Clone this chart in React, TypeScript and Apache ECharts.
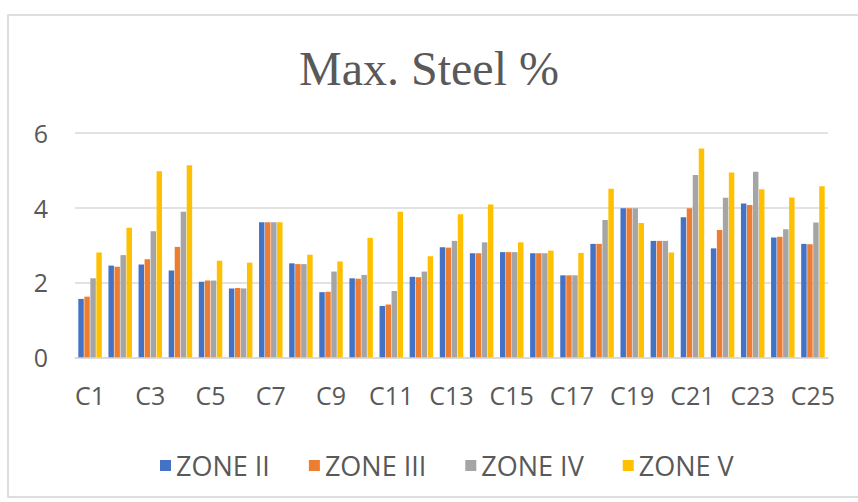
import React, { useEffect, useRef } from "react";
import * as echarts from "echarts";

const categories = Array.from({ length: 25 }, (_, i) => `C${i + 1}`);
const zone2 = [1.56, 2.45, 2.48, 2.32, 2.02, 1.84, 3.61, 2.51, 1.74, 2.11, 1.37, 2.15, 2.94, 2.78, 2.81, 2.78, 2.19, 3.03, 3.98, 3.11, 3.74, 2.91, 4.11, 3.2, 3.03];
const zone3 = [1.62, 2.42, 2.62, 2.95, 2.05, 1.85, 3.61, 2.49, 1.75, 2.1, 1.41, 2.14, 2.93, 2.78, 2.81, 2.78, 2.19, 3.03, 3.98, 3.11, 3.98, 3.4, 4.07, 3.22, 3.02];
const zone4 = [2.11, 2.73, 3.37, 3.89, 2.05, 1.84, 3.61, 2.49, 2.29, 2.2, 1.77, 2.29, 3.11, 3.07, 2.81, 2.78, 2.19, 3.67, 3.98, 3.11, 4.87, 4.26, 4.96, 3.42, 3.6];
const zone5 = [2.8, 3.46, 4.97, 5.13, 2.58, 2.53, 3.61, 2.74, 2.56, 3.19, 3.89, 2.7, 3.82, 4.08, 3.07, 2.85, 2.79, 4.5, 3.59, 2.8, 5.58, 4.94, 4.49, 4.27, 4.57];
const seriesNames = ["ZONE II", "ZONE III", "ZONE IV", "ZONE V"];
const seriesColors = ["#4472C4", "#ED7D31", "#A5A5A5", "#FFC000"];
const yTicks = { min: 0, max: 6, interval: 2 };

export default function App() {
  const ref = useRef<HTMLDivElement>(null);
  useEffect(() => {
    if (!ref.current) return;
    const chart = echarts.init(ref.current, undefined, { renderer: "svg" });
    const data = [zone2, zone3, zone4, zone5];
    const font = "'Open Sans', 'Noto Sans', sans-serif";
    chart.setOption({
      animation: false,
      backgroundColor: "#ffffff",
      title: {
        text: "Max. Steel %",
        left: "center",
        top: 44,
        padding: [0, 0, 0, 48],
        textStyle: {
          fontFamily: "'Liberation Serif', 'Times New Roman', serif",
          fontSize: 48,
          fontWeight: "normal",
          color: "#595959",
        },
      },
      graphic: [
        {
          type: "rect",
          shape: { x: 8, y: 15, width: 900, height: 482 },
          style: { fill: "none", stroke: "#d4d4d4", lineWidth: 1.5 },
          silent: true,
        },
      ],
      legend: {
        data: seriesNames,
        left: 150,
        top: 447,
        padding: [5, 5, 5, 10],
        itemWidth: 11,
        itemHeight: 11,
        itemGap: 39,
        icon: "rect",
        textStyle: { fontFamily: font, fontSize: 27, color: "#595959" },
      },
      grid: { left: 75, right: 30, top: 132.7, bottom: 144.7, containLabel: false },
      xAxis: {
        type: "category",
        data: categories,
        axisTick: { show: false },
        axisLine: { lineStyle: { color: "#d9d9d9", width: 1.5 } },
        axisLabel: {
          interval: 1,
          margin: 25,
          fontFamily: font,
          fontSize: 25,
          color: "#595959",
        },
      },
      yAxis: {
        type: "value",
        min: yTicks.min,
        max: yTicks.max,
        interval: yTicks.interval,
        axisLine: { show: false },
        axisTick: { show: false },
        splitLine: { lineStyle: { color: "#d9d9d9", width: 1.5 } },
        axisLabel: {
          margin: 27,
          fontFamily: font,
          fontSize: 25,
          color: "#595959",
        },
      },
      series: seriesNames.map((name, i) => ({
        name,
        type: "bar",
        data: data[i],
        itemStyle: { color: seriesColors[i] },
        barGap: "10%",
        barCategoryGap: "22%",
      })),
    });
    return () => chart.dispose();
  }, []);
  return (
    <div
      ref={ref}
      style={{ position: "fixed", left: 0, top: 0, width: 858, height: 502 }}
    />
  );
}
